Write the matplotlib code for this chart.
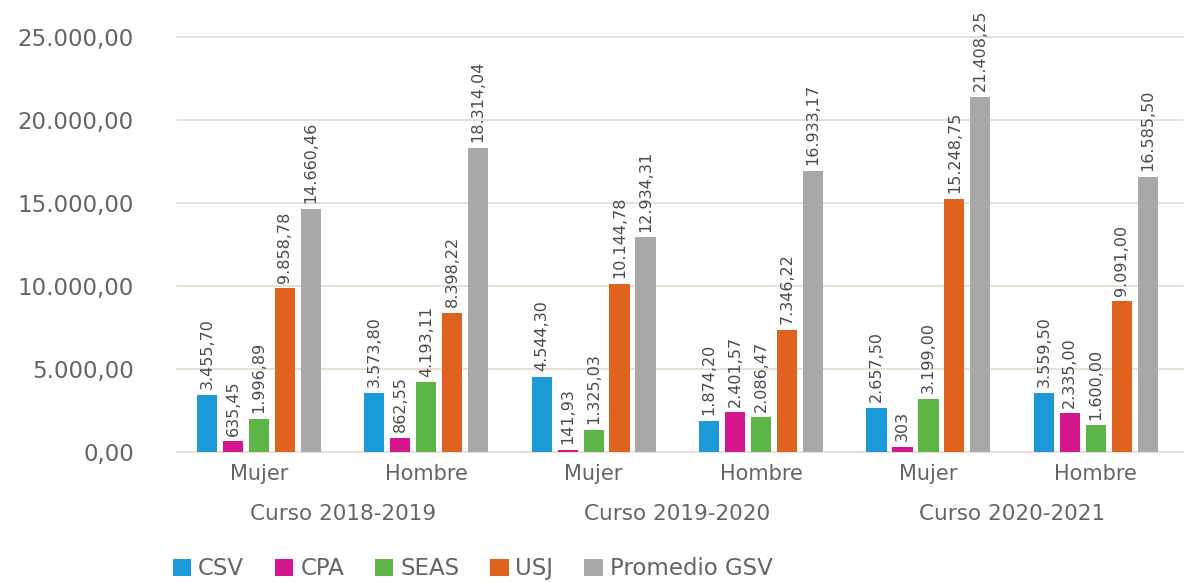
import matplotlib.pyplot as plt
import numpy as np

plt.rcParams['font.family'] = ['DejaVu Sans']

cursos = ['Curso 2018-2019', 'Curso 2019-2020', 'Curso 2020-2021']
sexos = ['Mujer', 'Hombre']
series = ['CSV', 'CPA', 'SEAS', 'USJ', 'Promedio GSV']
colores = ['#1b9ad7', '#d4168d', '#5cb546', '#e0621f', '#a8a8a8']

# un valor por subgrupo: Mujer/Hombre de cada curso
csv = [3455.70, 3573.80, 4544.30, 1874.20, 2657.50, 3559.50]
cpa = [635.45, 862.55, 141.93, 2401.57, 303, 2335.00]
seas = [1996.89, 4193.11, 1325.03, 2086.47, 3199.00, 1600.00]
usj = [9858.78, 8398.22, 10144.78, 7346.22, 15248.75, 9091.00]
gsv = [14660.46, 18314.04, 12934.31, 16933.17, 21408.25, 16585.50]
datos = [csv, cpa, seas, usj, gsv]


def fmt_es(v):
    # formato español: punto de miles, coma decimal
    if isinstance(v, int):
        return f'{v:,}'.replace(',', '.')
    s = f'{v:,.2f}'
    return s.replace(',', 'X').replace('.', ',').replace('X', '.')


texto = '#646464'
fig = plt.figure(figsize=(11.87, 5.82), dpi=100)
ax = fig.add_axes([0.149, 0.2234, 0.8475, 0.713])

x = np.arange(6)
ancho = 0.155
for i, (serie, col, vals) in enumerate(zip(series, colores, datos)):
    pos = x + (i - 2) * ancho
    ax.bar(pos, vals, width=ancho * 0.78, color=col, label=serie, zorder=3)
    for xp, v in zip(pos, vals):
        ax.annotate(fmt_es(v), (xp, v), xytext=(0, 4), textcoords='offset points',
                    rotation=90, ha='center', va='bottom', fontsize=11.5,
                    color='#4a4a4a', annotation_clip=False)

ax.set_ylim(0, 25000)
ax.set_xlim(-0.49, 5.52)
ticks = np.arange(0, 25001, 5000)
ax.set_yticks(ticks)
ax.set_yticklabels([fmt_es(float(t)) for t in ticks])
ax.yaxis.grid(True, color='#e8d8ca', linewidth=1.2, zorder=0)
for gl in ax.get_ygridlines():
    gl.set_clip_on(False)
ax.set_xticks(x)
ax.set_xticklabels(sexos * 3)
ax.tick_params(axis='both', length=0, colors=texto)
ax.tick_params(axis='y', labelsize=16.5, pad=31)
ax.tick_params(axis='x', labelsize=15, pad=9)
for s in ax.spines.values():
    s.set_visible(False)

for k, c in enumerate(cursos):
    ax.text(2 * k + 0.5, -0.125, c, transform=ax.get_xaxis_transform(),
            ha='center', va='top', fontsize=15.5, color=texto)

fig.legend(loc='center left', bbox_to_anchor=(0.1457, 0.0225), ncol=5,
           frameon=False, borderpad=0, borderaxespad=0,
           fontsize=16.5, handlelength=0.8, handleheight=0.8, handletextpad=0.3,
           columnspacing=1.35, labelcolor=texto)

fig.savefig('out.png', dpi=100, facecolor='white')
